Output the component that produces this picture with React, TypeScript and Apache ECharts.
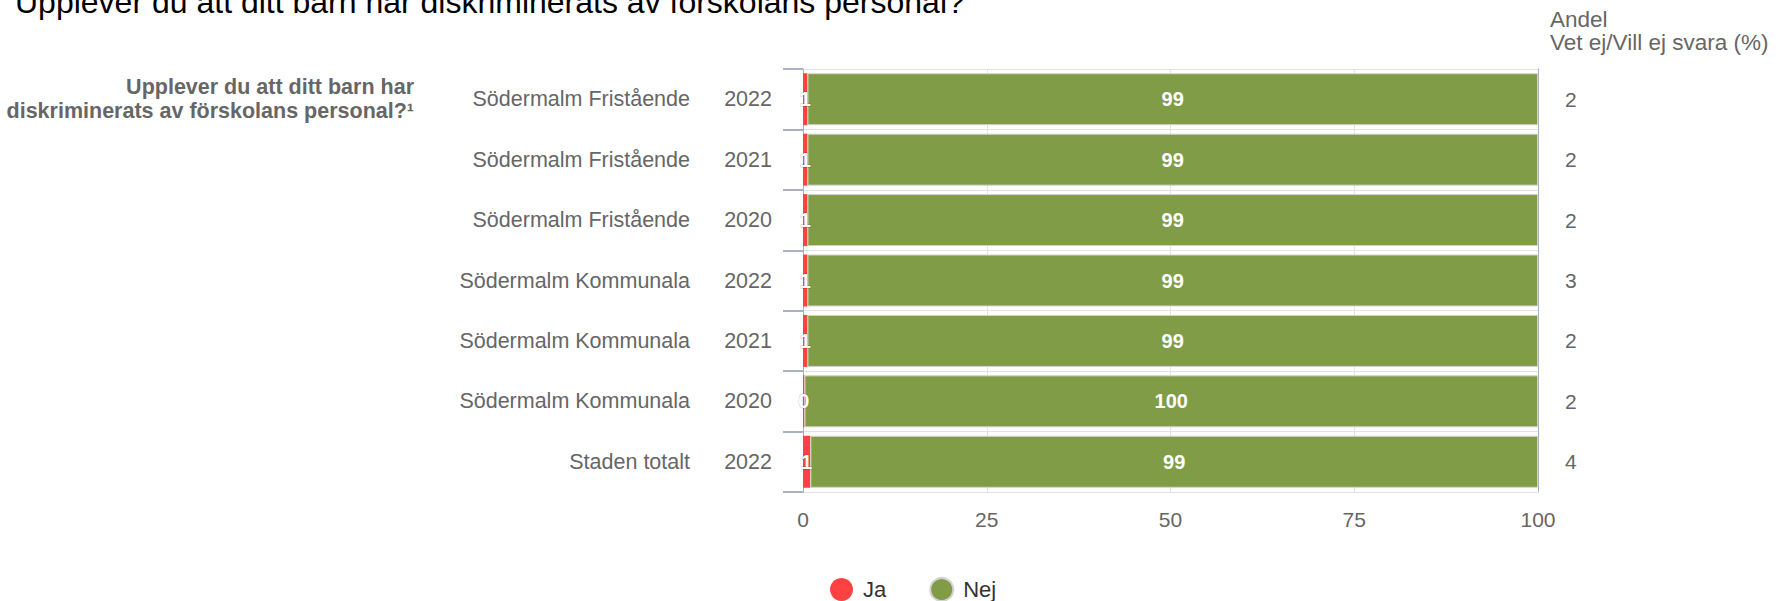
import React, { useEffect, useRef } from "react";
import * as echarts from "echarts";

const titleText = "Upplever du att ditt barn har diskriminerats av förskolans personal?";
const questionLines = ["Upplever du att ditt barn har", "diskriminerats av förskolans personal?¹"];
const groupNames = [
  "Södermalm Fristående",
  "Södermalm Fristående",
  "Södermalm Fristående",
  "Södermalm Kommunala",
  "Södermalm Kommunala",
  "Södermalm Kommunala",
  "Staden totalt",
];
const years = ["2022", "2021", "2020", "2022", "2021", "2020", "2022"];
const jaValues = [0.6, 0.6, 0.6, 0.6, 0.6, 0.2, 1.0];
const nejValues = [99.4, 99.4, 99.4, 99.4, 99.4, 99.8, 99.0];
const vetEjValues = ["2", "2", "2", "3", "2", "2", "4"];
const rightHeader = ["Andel", "Vet ej/Vill ej svara (%)"];
const xTicks = { min: 0, max: 100, interval: 25 };

const FONT = "'Liberation Sans', Arial, Helvetica, sans-serif";
const LABEL_COLOR = "#666666";
const AXIS_COLOR = "#aab2c2";

export default function App() {
  const ref = useRef<HTMLDivElement>(null);

  useEffect(() => {
    if (!ref.current) return;
    const chart = echarts.init(ref.current, undefined, { renderer: "svg" });
    const keys = groupNames.map((n, i) => n + "|" + years[i] + "|" + i);

    const option: any = {
      animation: false,
      backgroundColor: "#ffffff",
      textStyle: { fontFamily: FONT },
      grid: { left: 803, right: 245, top: 69, bottom: 109, containLabel: false },
      graphic: [
        {
          type: "text",
          x: 15,
          y: -14,
          style: {
            text: titleText,
            fontSize: 32,
            fontFamily: FONT,
            fill: "#000000",
            verticalAlign: "top",
            align: "left",
          },
        },
        {
          type: "text",
          x: 414,
          y: 75,
          style: {
            text: questionLines.join("\n"),
            fontSize: 21.5,
            lineHeight: 24,
            fontWeight: "bold",
            fontFamily: FONT,
            fill: LABEL_COLOR,
            align: "right",
            verticalAlign: "top",
          },
        },
        {
          type: "text",
          x: 1550,
          y: 8,
          style: {
            text: rightHeader.join("\n"),
            fontSize: 22.5,
            lineHeight: 23,
            fontFamily: FONT,
            fill: LABEL_COLOR,
            align: "left",
            verticalAlign: "top",
          },
        },
      ],
      legend: {
        left: 825,
        top: 572,
        itemWidth: 23,
        itemHeight: 23,
        itemGap: 43,
        icon: "circle",
        formatter: (name: string) => "{s|}" + name,
        textStyle: {
          fontSize: 22,
          lineHeight: 22,
          color: "#333333",
          fontFamily: FONT,
          rich: { s: { width: 5, height: 10 } },
        },
        data: ["Ja", "Nej"],
      },
      xAxis: {
        type: "value",
        min: xTicks.min,
        max: xTicks.max,
        interval: xTicks.interval,
        axisLine: { show: false },
        axisTick: { show: false },
        axisLabel: { fontSize: 21, color: LABEL_COLOR, margin: 17, fontFamily: FONT },
        splitLine: { show: true, lineStyle: { color: "#e3e3e3", width: 1 } },
      },
      yAxis: [
        {
          type: "category",
          data: keys,
          inverse: true,
          position: "left",
          axisLine: { show: true, lineStyle: { color: AXIS_COLOR, width: 1 } },
          axisTick: { show: true, length: 20, lineStyle: { color: AXIS_COLOR, width: 2 } },
          splitLine: { show: true, lineStyle: { color: "#e3e3e3", width: 1 } },
          axisLabel: {
            margin: 31,
            fontSize: 21.5,
            color: LABEL_COLOR,
            fontFamily: FONT,
            formatter: (v: string) => v.split("|")[1],
          },
        },
        {
          type: "category",
          data: keys,
          inverse: true,
          position: "left",
          axisLine: { show: false },
          axisTick: { show: false },
          splitLine: { show: false },
          axisLabel: {
            margin: 113,
            fontSize: 21.5,
            color: LABEL_COLOR,
            fontFamily: FONT,
            formatter: (v: string) => v.split("|")[0],
          },
        },
        {
          type: "category",
          data: keys,
          inverse: true,
          position: "right",
          axisLine: { show: true, lineStyle: { color: AXIS_COLOR, width: 1 } },
          axisTick: { show: false },
          splitLine: { show: false },
          axisLabel: {
            margin: 27,
            fontSize: 21,
            color: LABEL_COLOR,
            fontFamily: FONT,
            align: "left",
            formatter: (v: string) => vetEjValues[Number(v.split("|")[2])],
          },
        },
      ],
      series: [
        {
          name: "Ja",
          type: "bar",
          stack: "total",
          yAxisIndex: 0,
          barCategoryGap: "14%",
          data: jaValues,
          itemStyle: { color: "#ff4141", borderColor: "#ffffff", borderWidth: 0 },
          label: {
            show: true,
            position: "inside",
            color: "#ffffff",
            fontWeight: "bold",
            fontSize: 20,
            fontFamily: FONT,
            textBorderColor: "rgba(0,0,0,0.25)",
            textBorderWidth: 1,
            formatter: (p: any) => String(Math.round(p.value)),
          },
        },
        {
          name: "Nej",
          type: "bar",
          stack: "total",
          yAxisIndex: 0,
          barCategoryGap: "14%",
          data: nejValues,
          itemStyle: { color: "#809c46", borderColor: "#d2d2d2", borderWidth: 1 },
          label: {
            show: true,
            position: "inside",
            color: "#ffffff",
            fontWeight: "bold",
            fontSize: 20,
            fontFamily: FONT,
            formatter: (p: any) => String(Math.round(p.value)),
          },
        },
      ],
    };

    chart.setOption(option);
    return () => chart.dispose();
  }, []);

  return (
    <div
      ref={ref}
      style={{ position: "fixed", left: 0, top: 0, width: 1783, height: 601, background: "#fff" }}
    />
  );
}
